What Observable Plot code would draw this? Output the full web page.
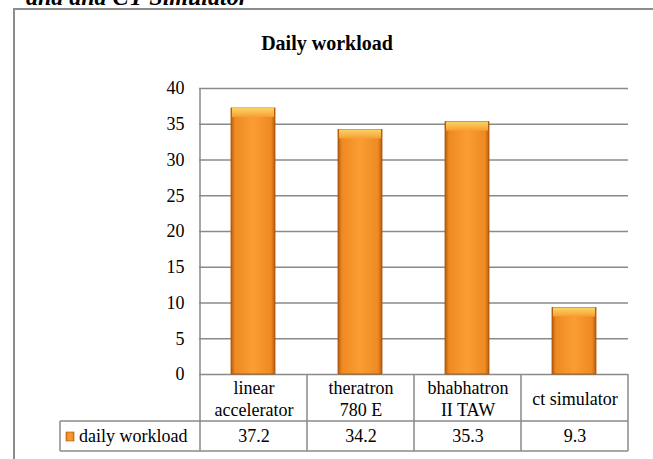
<!DOCTYPE html>
<html><head><meta charset="utf-8">
<script src="https://cdn.jsdelivr.net/npm/d3@7"></script>
<script src="https://cdn.jsdelivr.net/npm/@observablehq/plot@0.6"></script>
<style>body{margin:0;background:#fff} svg{display:block}</style>
</head><body><div id="chart"></div>
<script>
const categories = ["linear\naccelerator", "theratron\n780 E", "bhabhatron\nII TAW", "ct simulator"];
const values = [37.2, 34.2, 35.3, 9.3];
const valueLabels = ["37.2", "34.2", "35.3", "9.3"];
const yTicks = [0, 5, 10, 15, 20, 25, 30, 35, 40];
const seriesName = "daily workload";
const chartTitle = "Daily workload";
const headerText = "and and CT Simulator";

const data = categories.map((c, i) => ({category: c, value: values[i], label: valueLabels[i]}));
const font = "'Liberation Serif', 'Times New Roman', serif";
const gridColor = "#8a8a8a";

const plot = Plot.plot({
  width: 653, height: 459,
  marginLeft: 199, marginRight: 25, marginTop: 88, marginBottom: 85,
  style: {fontFamily: font, fontSize: "18px", color: "#000", background: "#fff", overflow: "hidden"},
  x: {domain: categories, padding: 0, axis: null},
  y: {domain: [0, 40], ticks: yTicks, tickSize: 0, tickPadding: 15, label: null, tickFormat: d => String(d)},
  marks: [
    Plot.gridY(yTicks, {stroke: gridColor, strokeOpacity: 1, strokeWidth: 1.5}),
    Plot.barY(data, {x: "category", y: "value", insetLeft: 31, insetRight: 32, fill: "url(#barBody)", stroke: "#a65408", strokeWidth: 0.8}),
    Plot.barY(data, {x: "category", y1: "value", y2: "value", insetBottom: -9, insetLeft: 32, insetRight: 33, fill: "url(#barTop)"}),
    Plot.text(data, {x: "category", text: "category", frameAnchor: "bottom", dy: 23.5, lineAnchor: "middle", lineHeight: 1.2, fontSize: 18}),
    Plot.text(data, {x: "category", text: "label", frameAnchor: "bottom", dy: 62, lineAnchor: "middle", fontSize: 18})
  ]
});

const svg = d3.select(plot);
const defs = svg.insert("defs", ":first-child");
const gb = defs.append("linearGradient").attr("id", "barBody").attr("x1", 0).attr("x2", 1).attr("y1", 0).attr("y2", 0);
[[0, "#b95d0c"], [0.09, "#ee8a22"], [0.5, "#fa9d34"], [0.91, "#ee8a22"], [1, "#b95d0c"]]
  .forEach(([o, c]) => gb.append("stop").attr("offset", o).attr("stop-color", c));
const gt = defs.append("linearGradient").attr("id", "barTop").attr("x1", 0).attr("x2", 0).attr("y1", 0).attr("y2", 1);
[[0, "#fcd466"], [0.6, "#f9b448"], [1, "#f89d33"]].forEach(([o, c]) => gt.append("stop").attr("offset", o).attr("stop-color", c));

const xs = plot.scale("x");
const ys = plot.scale("y");
const bounds = categories.map(c => xs.apply(c));
bounds.push(bounds[bounds.length - 1] + xs.bandwidth);
const y0 = ys.apply(0), y40 = ys.apply(40);
const rowMid = y0 + 47, rowBot = y0 + 77;
const legendLeft = 60;

const g = svg.append("g").attr("stroke", gridColor).attr("stroke-width", 1.5).attr("fill", "none");
g.append("line").attr("x1", bounds[0]).attr("x2", bounds[0]).attr("y1", y40).attr("y2", rowBot);
bounds.slice(1).forEach(b => g.append("line").attr("x1", b).attr("x2", b).attr("y1", y0).attr("y2", rowBot));
g.append("line").attr("x1", legendLeft).attr("x2", bounds[bounds.length - 1]).attr("y1", rowMid).attr("y2", rowMid);
g.append("line").attr("x1", legendLeft).attr("x2", bounds[bounds.length - 1]).attr("y1", rowBot).attr("y2", rowBot);
g.append("line").attr("x1", legendLeft).attr("x2", legendLeft).attr("y1", rowMid).attr("y2", rowBot);
// outer chart frame
svg.append("path").attr("d", "M14,459V9H653").attr("fill", "none").attr("stroke", "#8c8c8c").attr("stroke-width", 2);

// legend
svg.append("rect").attr("x", 66).attr("y", 432).attr("width", 8).attr("height", 9).attr("fill", "url(#barBody)").attr("stroke", "#a65408").attr("stroke-width", 0.6);
svg.append("text").attr("x", 79).attr("y", (rowMid + rowBot) / 2).attr("dy", "0.32em").attr("text-anchor", "start")
  .attr("font-family", font).attr("font-size", 18).attr("fill", "#000").text(seriesName);

// title
svg.append("text").attr("x", 327).attr("y", 50).attr("text-anchor", "middle")
  .attr("font-family", font).attr("font-size", 20).attr("font-weight", "bold").attr("fill", "#000").text(chartTitle);

// cropped header text from the page above (cut off at the top, as in the reference)
svg.append("text").attr("x", 248).attr("y", 5).attr("text-anchor", "end")
  .attr("font-family", font).attr("font-size", 24).attr("font-weight", "bold").attr("font-style", "italic").attr("fill", "#000").text(headerText);

document.getElementById("chart").appendChild(plot);
</script>
</body></html>
